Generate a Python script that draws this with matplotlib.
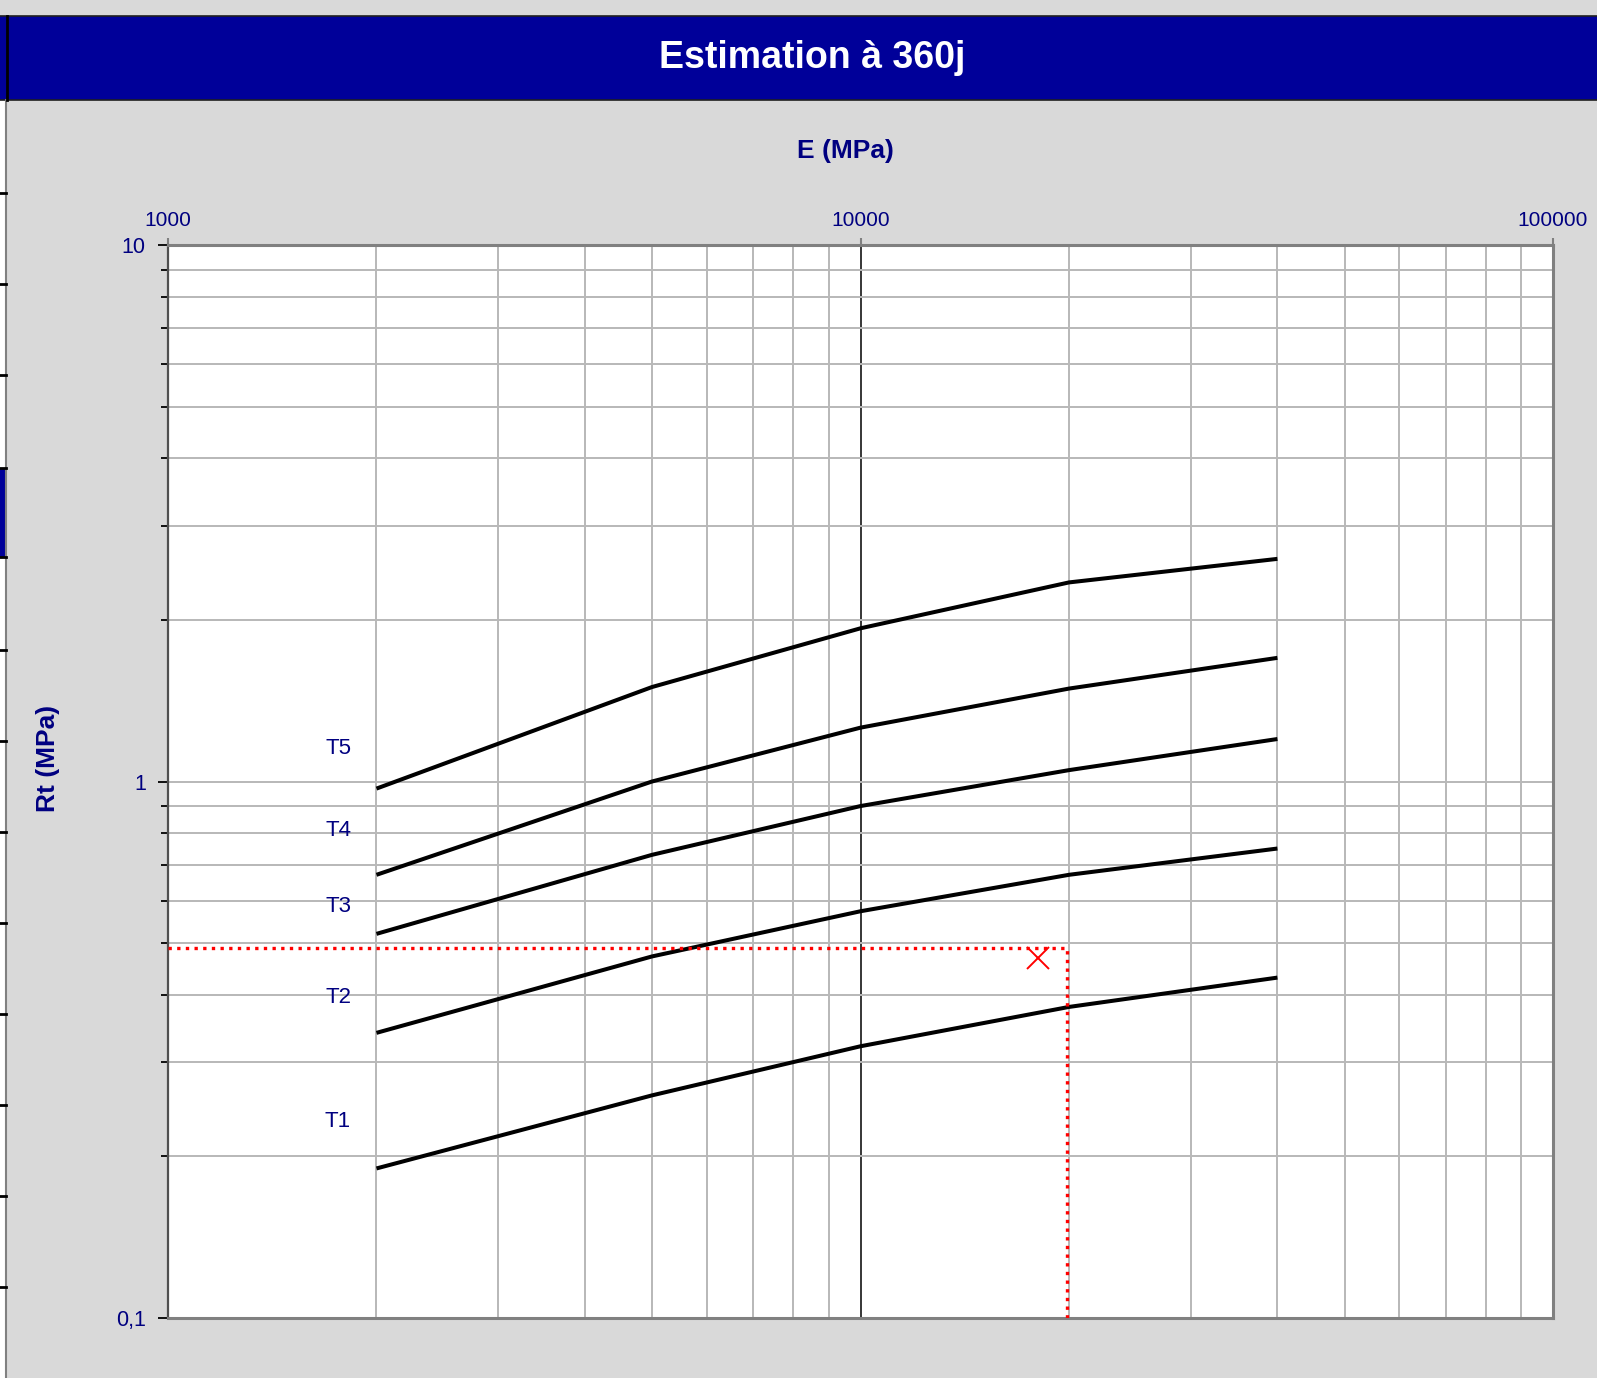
import matplotlib
matplotlib.use("Agg")
import matplotlib.pyplot as plt
from matplotlib.patches import Rectangle
from matplotlib.lines import Line2D
from matplotlib.ticker import FixedLocator, FixedFormatter, NullFormatter, LogLocator

plt.rcParams['font.family'] = ['Liberation Sans', 'DejaVu Sans']

# ---- data ----
E_values = [2000, 5000, 10000, 20000, 40000]
T1 = [0.19, 0.26, 0.321, 0.38, 0.431]
T2 = [0.34, 0.472, 0.573, 0.67, 0.75]
T3 = [0.52, 0.73, 0.90, 1.05, 1.20]
T4 = [0.67, 1.00, 1.26, 1.49, 1.70]
T5 = [0.97, 1.50, 1.93, 2.35, 2.60]
series = [T1, T2, T3, T4, T5]
series_names = ["T1", "T2", "T3", "T4", "T5"]
label_x = 1760
label_y = [0.232, 0.395, 0.586, 0.809, 1.154]

estimate_E = 19850
estimate_Rt = 0.489
point_E = 18040
point_Rt = 0.469

x_ticks = [1000, 10000, 100000]
x_ticklabels = ["1000", "10000", "100000"]
y_ticks = [0.1, 1, 10]
y_ticklabels = ["0,1", "1", "10"]

title = "Estimation à 360j"
xlabel = "E (MPa)"
ylabel = "Rt (MPa)"

W, H = 1597, 1378
NAVY = "#000080"
BG = "#d9d9d9"

fig = plt.figure(figsize=(W / 100, H / 100), dpi=100, facecolor=BG)

def fx(x):
    return x / W

def fy(y):
    return 1 - y / H

ax = fig.add_axes([fx(168), fy(1318), fx(1553) - fx(168), fy(245) - fy(1318)])
ax.set_facecolor("white")
ax.set_xscale("log")
ax.set_yscale("log")
ax.set_xlim(1000, 100000)
ax.set_ylim(0.1, 10)

# grid
ax.xaxis.set_minor_locator(LogLocator(base=10, subs=range(2, 10)))
ax.yaxis.set_minor_locator(LogLocator(base=10, subs=range(2, 10)))
ax.grid(True, which="minor", axis="both", color="#b8b8b8", lw=1.4, zorder=0)
ax.grid(True, which="major", axis="y", color="#b8b8b8", lw=1.4, zorder=0)
ax.axvline(10000, color="black", lw=1.1, zorder=1)

# lines
for s in series:
    ax.plot(E_values, s, color="black", lw=2.9, solid_capstyle="butt", zorder=3)

for name, ly in zip(series_names, label_y):
    ax.text(label_x, ly, name, color=NAVY, fontsize=16, ha="center", va="center", zorder=4)

# estimation lines
ax.plot([1000, estimate_E], [estimate_Rt, estimate_Rt], color="red", lw=2.4,
        linestyle=(0, (1, 1.6)), zorder=4)
ax.plot([estimate_E, estimate_E], [0.1, estimate_Rt], color="red", lw=2.4,
        linestyle=(0, (1, 1.6)), zorder=4)
ax.plot([point_E], [point_Rt], marker="x", color="red", markersize=16, mew=1.4,
        linestyle="none", zorder=5)

# ticks
ax.xaxis.tick_top()
ax.xaxis.set_major_locator(FixedLocator(x_ticks))
ax.xaxis.set_major_formatter(FixedFormatter(x_ticklabels))
ax.xaxis.set_minor_formatter(NullFormatter())
ax.tick_params(axis="x", which="major", direction="out", length=5, width=1.5,
               color="#808080", labelcolor=NAVY, labelsize=15, pad=5.5)
ax.tick_params(axis="x", which="minor", length=0)
ax.yaxis.set_major_locator(FixedLocator(y_ticks))
ax.yaxis.set_major_formatter(FixedFormatter(y_ticklabels))
ax.yaxis.set_minor_formatter(NullFormatter())
ax.tick_params(axis="y", which="major", direction="out", length=7, width=1.3,
               color="black", labelcolor=NAVY, labelsize=15.5, pad=9)
ax.tick_params(axis="y", which="minor", direction="out", length=5, width=1.3,
               color="black")

for sp in ax.spines.values():
    sp.set_color("#808080")
    sp.set_linewidth(2.2)
ax.spines["left"].set_color("#505050")
ax.spines["left"].set_linewidth(1.6)

# axis titles
fig.text(fx(845), fy(151), xlabel, color=NAVY, fontsize=19, fontweight="bold",
         ha="center", va="center")
fig.text(fx(48), fy(758), ylabel, color=NAVY, fontsize=19, fontweight="bold",
         ha="center", va="center", rotation=90)

# title bar
fig.add_artist(Rectangle((fx(0), fy(100)), 1, fy(16) - fy(100), transform=fig.transFigure,
                         facecolor="#000099", edgecolor="none", zorder=1))
fig.add_artist(Line2D([0, 1], [fy(16), fy(16)], transform=fig.transFigure, color="#202020", lw=1.2))
fig.add_artist(Line2D([0, 1], [fy(100), fy(100)], transform=fig.transFigure, color="#202020", lw=1.2))
fig.text(fx(812), fy(58), title, color="white", fontsize=27, fontweight="bold",
         ha="center", va="center", zorder=3)

# left strip artefacts (screenshot border)
fig.add_artist(Rectangle((0, fy(H)), fx(6), fy(100) - fy(H), transform=fig.transFigure,
                         facecolor="white", edgecolor="none", zorder=1))
fig.add_artist(Rectangle((0, fy(557)), fx(6), fy(468) - fy(557), transform=fig.transFigure,
                         facecolor="#000099", edgecolor="none", zorder=2))
fig.add_artist(Line2D([fx(6.5), fx(6.5)], [0, fy(100)], transform=fig.transFigure,
                      color="#808080", lw=1.5, zorder=3))
fig.add_artist(Line2D([fx(7), fx(7)], [fy(100), fy(16)], transform=fig.transFigure,
                      color="black", lw=2.0, zorder=3))
for ty in [193, 284, 375, 468, 557, 650, 741, 832, 923, 1014, 1105, 1196, 1287]:
    fig.add_artist(Line2D([0, fx(6)], [fy(ty), fy(ty)], transform=fig.transFigure,
                          color="black", lw=2.0, zorder=3))

fig.savefig("out.png", dpi=100, facecolor=BG)
